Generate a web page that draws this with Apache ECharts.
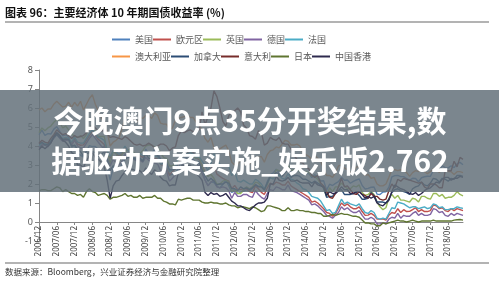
<!DOCTYPE html>
<html>
<head>
<meta charset="utf-8">
<script src="https://cdn.jsdelivr.net/npm/echarts@6/dist/echarts.min.js"></script>
<style>
  html, body { margin: 0; padding: 0; background: #ffffff; }
  #chart { width: 499px; height: 282px; }
</style>
</head>
<body>
<div id="chart"></div>
<script>
// 10-year government bond yields (%), monthly, 2006/12 – 2018/11
const startYear = 2006, startMonth = 12, monthCount = 144;

const yTicks = [-1, 0, 1, 2, 3, 4, 5, 6, 7, 8];

const usa = [4.60,
  4.83,4.56,4.65,4.63,4.89,5.02,4.77,4.53,4.59,4.47,3.94,4.03,
  3.63,3.52,3.41,3.73,4.02,3.97,3.98,3.82,3.83,4.00,2.93,2.21,
  2.84,3.02,2.69,3.12,3.46,3.53,3.48,3.40,3.31,3.39,3.21,3.84,
  3.59,3.61,3.83,3.66,3.29,2.93,2.91,2.47,2.51,2.60,2.80,3.29,
  3.37,3.42,3.46,3.29,3.06,3.18,2.80,2.22,1.92,2.11,2.07,1.88,
  1.80,1.97,2.21,1.91,1.56,1.64,1.49,1.56,1.63,1.69,1.61,1.76,
  1.98,1.88,1.85,1.67,2.13,2.49,2.58,2.78,2.61,2.56,2.75,3.03,
  2.67,2.65,2.72,2.64,2.48,2.53,2.56,2.34,2.49,2.34,2.16,2.17,
  1.68,1.99,1.92,2.03,2.12,2.35,2.20,2.21,2.04,2.14,2.21,2.27,
  1.92,1.74,1.77,1.83,1.84,1.47,1.45,1.58,1.59,1.83,2.37,2.44,
  2.45,2.39,2.39,2.28,2.20,2.30,2.29,2.12,2.33,2.38,2.41,2.40,
  2.71,2.86,2.74,2.95,2.86,2.85,2.96,2.86,3.06,3.14,3.01];

const euro = [3.95,
  4.10,4.08,4.02,4.25,4.47,4.68,4.52,4.35,4.40,4.38,4.15,4.40,
  4.10,4.04,4.06,4.30,4.55,4.76,4.55,4.35,4.22,4.08,3.70,3.35,
  3.74,3.62,3.45,3.60,3.95,3.76,3.65,3.55,3.44,3.50,3.40,3.60,
  3.55,3.41,3.35,3.36,3.05,2.95,3.02,2.45,2.66,2.80,3.06,3.30,
  3.55,3.62,3.75,3.65,3.36,3.30,2.96,2.60,2.40,2.80,3.00,2.52,
  2.40,2.30,2.22,2.15,1.75,1.92,1.70,1.72,1.75,1.76,1.60,1.55,
  1.90,1.75,1.56,1.45,1.80,2.05,1.95,2.10,2.05,1.95,1.95,2.15,
  1.90,1.80,1.70,1.60,1.50,1.40,1.30,1.05,1.10,1.00,0.85,0.70,
  0.50,0.45,0.30,0.45,0.72,1.00,0.85,0.95,0.80,0.70,0.70,0.80,
  0.55,0.35,0.36,0.45,0.35,0.15,0.15,0.16,0.10,0.35,0.50,0.45,
  0.70,0.50,0.65,0.55,0.56,0.65,0.75,0.55,0.65,0.55,0.55,0.60,
  0.90,0.85,0.70,0.75,0.60,0.55,0.70,0.60,0.70,0.65,0.60];

const uk = [4.70,
  4.95,4.80,4.95,5.05,5.25,5.40,5.25,4.95,5.05,4.85,4.65,4.50,
  4.45,4.55,4.40,4.60,5.00,5.10,4.75,4.50,4.50,4.50,3.75,3.05,
  3.70,3.60,3.15,3.55,3.70,3.80,3.85,3.65,3.55,3.60,3.75,4.00,
  4.05,4.05,3.95,3.95,3.65,3.40,3.35,2.95,2.95,3.05,3.25,3.50,
  3.70,3.75,3.75,3.45,3.35,3.40,2.95,2.55,2.40,2.50,2.30,2.00,
  2.00,2.15,2.20,2.10,1.60,1.70,1.50,1.50,1.70,1.85,1.75,1.85,
  2.10,2.05,1.85,1.70,1.95,2.45,2.35,2.75,2.70,2.65,2.80,3.00,
  2.70,2.75,2.75,2.65,2.65,2.65,2.60,2.40,2.40,2.25,2.00,1.75,
  1.35,1.80,1.60,1.85,1.85,2.05,1.90,1.75,1.75,1.90,1.85,1.95,
  1.55,1.40,1.45,1.60,1.45,1.05,0.80,0.65,0.75,1.25,1.45,1.25,
  1.40,1.15,1.15,1.10,1.05,1.25,1.20,1.05,1.35,1.35,1.25,1.20,
  1.50,1.50,1.35,1.45,1.25,1.30,1.30,1.40,1.60,1.45,1.38];

const germany = [3.90,
  4.05,4.05,3.95,4.20,4.40,4.60,4.40,4.25,4.30,4.30,4.05,4.30,
  4.00,3.90,3.90,4.15,4.40,4.60,4.40,4.20,4.00,3.85,3.35,2.95,
  3.30,3.10,3.00,3.20,3.60,3.40,3.35,3.30,3.20,3.25,3.15,3.40,
  3.25,3.10,3.10,3.05,2.70,2.60,2.70,2.15,2.30,2.50,2.65,2.95,
  3.15,3.20,3.35,3.30,3.05,2.95,2.55,2.20,1.90,2.10,2.20,1.85,
  1.80,1.85,1.80,1.65,1.25,1.55,1.35,1.35,1.45,1.45,1.35,1.30,
  1.65,1.45,1.30,1.20,1.50,1.70,1.65,1.85,1.80,1.70,1.70,1.95,
  1.65,1.60,1.55,1.45,1.35,1.25,1.15,0.90,0.95,0.85,0.70,0.55,
  0.35,0.30,0.20,0.35,0.50,0.80,0.65,0.75,0.60,0.50,0.50,0.60,
  0.35,0.15,0.15,0.25,0.15,-0.10,-0.10,-0.05,-0.10,0.15,0.25,0.20,
  0.45,0.20,0.35,0.30,0.30,0.45,0.55,0.35,0.45,0.35,0.35,0.40,
  0.70,0.65,0.50,0.55,0.35,0.30,0.45,0.35,0.45,0.40,0.35];

const france = [4.00,
  4.15,4.15,4.05,4.30,4.50,4.70,4.55,4.40,4.45,4.40,4.20,4.45,
  4.20,4.15,4.15,4.40,4.65,4.85,4.65,4.45,4.40,4.30,3.75,3.45,
  3.75,3.70,3.55,3.70,4.00,3.75,3.70,3.60,3.50,3.60,3.50,3.60,
  3.55,3.45,3.45,3.45,3.05,3.05,3.05,2.65,2.75,2.95,3.35,3.35,
  3.55,3.60,3.65,3.60,3.40,3.45,3.20,3.00,2.70,3.10,3.60,3.25,
  3.05,2.95,3.00,2.95,2.45,2.65,2.15,2.10,2.20,2.10,2.00,2.00,
  2.25,2.15,2.00,1.75,2.05,2.35,2.25,2.50,2.45,2.30,2.25,2.55,
  2.25,2.20,2.05,1.95,1.75,1.70,1.55,1.35,1.30,1.25,1.10,0.85,
  0.60,0.65,0.45,0.50,0.85,1.20,0.95,1.05,0.95,0.90,0.85,0.95,
  0.70,0.50,0.45,0.60,0.50,0.20,0.15,0.20,0.15,0.45,0.75,0.70,
  1.05,1.00,0.95,0.85,0.75,0.80,0.80,0.70,0.75,0.80,0.70,0.75,
  0.95,0.90,0.75,0.80,0.65,0.65,0.70,0.70,0.80,0.75,0.72];

const australia = [5.90,
  6.00,5.80,5.95,5.95,6.20,6.35,6.20,6.05,6.10,6.30,6.05,6.30,
  6.10,6.35,5.90,6.20,6.50,6.70,6.20,5.85,5.50,5.15,4.75,4.00,
  4.20,4.30,4.45,4.90,5.50,5.50,5.50,5.40,5.25,5.50,5.45,5.60,
  5.60,5.45,5.75,5.60,5.20,5.15,5.15,4.85,4.95,5.35,5.45,5.50,
  5.55,5.60,5.50,5.50,5.25,5.20,4.80,4.40,4.20,4.45,3.90,3.65,
  3.85,3.95,4.05,3.75,3.15,3.00,3.05,3.25,3.05,3.15,3.05,3.25,
  3.40,3.40,3.45,3.15,3.55,3.75,3.80,3.95,3.90,4.10,4.30,4.25,
  4.05,4.05,4.10,4.00,3.65,3.55,3.45,3.30,3.50,3.35,3.20,2.80,
  2.45,2.45,2.35,2.60,2.95,3.00,2.85,2.75,2.60,2.65,2.90,2.90,
  2.60,2.45,2.50,2.30,2.35,2.00,1.90,1.90,2.00,2.35,2.75,2.75,
  2.70,2.75,2.70,2.60,2.40,2.60,2.70,2.65,2.85,2.65,2.55,2.65,
  2.80,2.80,2.60,2.75,2.70,2.65,2.65,2.50,2.65,2.65,2.60];

const canada = [4.10,
  4.20,4.05,4.10,4.20,4.45,4.60,4.45,4.35,4.35,4.35,4.00,4.05,
  3.85,3.70,3.45,3.60,3.65,3.70,3.65,3.45,3.55,3.70,3.30,2.70,
  2.95,2.95,2.80,2.95,3.30,3.40,3.40,3.35,3.25,3.35,3.20,3.60,
  3.35,3.35,3.60,3.50,3.30,3.10,3.15,2.75,2.75,2.80,3.10,3.15,
  3.30,3.30,3.40,3.25,3.05,3.10,2.75,2.45,2.15,2.30,2.15,1.95,
  2.00,2.00,2.10,2.05,1.75,1.75,1.65,1.85,1.75,1.80,1.70,1.80,
  1.95,1.85,1.85,1.70,2.05,2.40,2.45,2.60,2.55,2.40,2.60,2.75,
  2.35,2.45,2.45,2.40,2.25,2.25,2.15,2.05,2.15,2.05,1.95,1.80,
  1.30,1.35,1.35,1.55,1.65,1.70,1.45,1.45,1.45,1.50,1.55,1.40,
  1.20,1.20,1.25,1.55,1.40,1.05,1.05,1.05,1.00,1.20,1.55,1.70,
  1.75,1.65,1.60,1.55,1.45,1.75,1.85,1.90,2.10,1.95,1.90,2.05,
  2.30,2.25,2.10,2.30,2.25,2.15,2.30,2.25,2.45,2.45,2.40];

const italy = [4.15,
  4.30,4.20,4.15,4.40,4.60,4.85,4.70,4.60,4.65,4.55,4.40,4.55,
  4.45,4.50,4.55,4.70,4.95,5.10,4.95,4.80,4.80,4.80,4.65,4.45,
  4.50,4.45,4.40,4.35,4.50,4.40,4.25,4.10,4.05,4.10,4.00,4.05,
  4.15,4.05,3.90,4.00,4.10,4.10,4.00,3.75,3.90,3.95,4.55,4.80,
  4.70,4.80,4.85,4.75,4.75,4.85,5.80,5.10,5.55,6.00,6.90,6.60,
  6.00,5.30,5.05,5.60,5.80,5.85,6.00,5.80,5.10,4.95,4.55,4.50,
  4.35,4.80,4.70,4.05,4.15,4.45,4.35,4.30,4.45,4.15,4.10,4.10,
  3.85,3.50,3.30,3.15,3.10,2.90,2.80,2.45,2.35,2.45,2.05,1.90,
  1.60,1.30,1.25,1.50,1.85,2.30,1.85,1.90,1.70,1.50,1.45,1.60,
  1.45,1.40,1.25,1.50,1.35,1.35,1.20,1.15,1.20,1.65,2.00,1.80,
  2.25,2.15,2.30,2.25,2.20,2.15,2.10,2.05,2.10,1.85,1.75,2.00,
  2.00,1.95,1.80,1.80,2.70,2.70,2.70,3.20,2.90,3.40,3.30];

const japan = [1.65,
  1.70,1.70,1.65,1.65,1.75,1.85,1.80,1.60,1.70,1.60,1.50,1.50,
  1.40,1.45,1.30,1.60,1.75,1.60,1.55,1.40,1.45,1.50,1.40,1.20,
  1.30,1.30,1.35,1.40,1.50,1.35,1.40,1.30,1.30,1.40,1.25,1.30,
  1.30,1.30,1.40,1.25,1.25,1.10,1.05,0.95,0.95,0.90,1.20,1.15,
  1.20,1.25,1.25,1.15,1.15,1.15,1.05,1.00,1.00,1.05,1.00,1.00,
  0.95,0.95,1.00,0.90,0.85,0.85,0.75,0.80,0.80,0.75,0.70,0.80,
  0.75,0.65,0.55,0.60,0.85,0.85,0.80,0.75,0.70,0.60,0.60,0.75,
  0.60,0.60,0.65,0.60,0.60,0.55,0.55,0.50,0.50,0.45,0.45,0.30,
  0.30,0.35,0.40,0.35,0.40,0.45,0.40,0.40,0.35,0.30,0.30,0.25,
  0.10,-0.05,-0.05,-0.10,-0.10,-0.20,-0.20,-0.05,-0.10,-0.05,0.00,0.05,
  0.10,0.05,0.05,0.00,0.05,0.10,0.05,0.00,0.05,0.05,0.05,0.05,
  0.10,0.05,0.05,0.05,0.05,0.05,0.05,0.10,0.12,0.13,0.10];

const hongkong = [3.80,
  4.00,3.85,4.00,4.15,4.50,4.70,4.55,4.30,4.20,4.00,3.65,3.55,
  3.00,3.00,2.85,3.25,3.45,3.65,3.40,3.30,3.15,2.90,2.20,1.25,
  1.90,2.15,2.20,2.45,2.65,2.90,2.80,2.75,2.65,2.70,2.55,2.85,
  2.65,2.50,2.75,2.60,2.35,2.20,2.15,1.90,1.95,1.95,2.60,2.95,
  3.00,2.95,3.00,2.75,2.55,2.40,2.20,1.55,1.40,1.55,1.45,1.50,
  1.35,1.40,1.50,1.30,1.10,1.00,0.85,0.85,0.75,0.65,0.60,0.75,
  0.90,1.00,1.00,1.05,1.25,2.00,2.00,2.40,2.20,2.15,2.20,2.35,
  2.15,2.15,2.20,2.10,2.05,2.05,2.05,1.85,2.10,1.95,1.90,1.85,
  1.40,1.60,1.50,1.50,1.65,1.85,1.70,1.70,1.50,1.50,1.60,1.60,
  1.45,1.25,1.35,1.25,1.35,1.00,0.90,0.85,1.00,1.15,1.60,1.95,
  1.85,1.75,1.70,1.60,1.50,1.45,1.55,1.40,1.50,1.65,1.75,1.80,
  1.95,2.10,2.05,2.25,2.35,2.35,2.20,2.30,2.30,2.40,2.35];

const seriesNames = ['美国', '欧元区', '英国', '德国', '法国',
                     '澳大利亚', '加拿大', '意大利', '日本', '中国香港'];
const seriesData = [usa, euro, uk, germany, france,
                    australia, canada, italy, japan, hongkong];
const seriesColors = ['#4F81BD', '#C0504D', '#9BBB59', '#8064A2', '#4BACC6',
                      '#F79646', '#2C4D75', '#772C2A', '#5F7530', '#2E2A4E'];

// month labels "YYYY/MM"
const months = [];
for (let i = 0; i < monthCount; i++) {
  const m0 = startMonth - 1 + i;
  const y = startYear + Math.floor(m0 / 12);
  const m = (m0 % 12) + 1;
  months.push(y + '/' + (m < 10 ? '0' + m : m));
}

const chart = echarts.init(document.getElementById('chart'), null, { renderer: 'canvas' });

const cjk = '"Noto Sans CJK SC", sans-serif';

// plot area: 9 units (-1..8) over 171 px, so one unit is 19 px
const gridTop = 70, gridBottom = 41, unitPx = 19;

const legendBase = {
  left: 107,
  itemWidth: 18,
  itemHeight: 2,
  itemGap: 0,
  icon: 'rect',
  textStyle: { fontSize: 9, color: '#595959', width: 34, fontFamily: cjk }
};

chart.setOption({
  animation: false,
  backgroundColor: '#ffffff',
  color: seriesColors,
  legend: [
    Object.assign({ top: 30, data: seriesNames.slice(0, 5) }, legendBase),
    Object.assign({ top: 47, data: seriesNames.slice(5) }, legendBase)
  ],
  grid: { left: 39, right: 36, top: gridTop, bottom: gridBottom, containLabel: false },
  xAxis: {
    type: 'category',
    data: months,
    boundaryGap: false,
    // the category axis sits on the zero line, one unit above the plot bottom
    offset: -unitPx,
    axisLine: { onZero: false, lineStyle: { color: '#868686', width: 1 } },
    axisTick: { show: true, interval: 5, length: 3, lineStyle: { color: '#868686' } },
    axisLabel: {
      interval: 5, rotate: 90, fontSize: 8, color: '#404040', margin: 4,
      fontFamily: '"Noto Sans", sans-serif'
    },
    splitLine: { show: false }
  },
  yAxis: {
    type: 'value',
    min: yTicks[0],
    max: yTicks[yTicks.length - 1],
    interval: 1,
    axisLine: { show: true, lineStyle: { color: '#868686', width: 1 } },
    axisTick: { show: true, length: 4, lineStyle: { color: '#868686' } },
    axisLabel: { fontSize: 9, color: '#595959', margin: 6, fontFamily: '"Noto Sans", sans-serif' },
    splitLine: { show: false }
  },
  series: seriesNames.map((name, i) => ({
    name: name,
    type: 'line',
    data: seriesData[i],
    symbol: 'none',
    lineStyle: { width: 1.4 },
    z: 2
  })),
  graphic: [
    {
      type: 'text', z: 10, x: 5, y: 13,
      style: {
        text: '图表 96：主要经济体 10 年期国债收益率 (%)',
        fontSize: 11, fontWeight: 'bold', fill: '#111111',
        verticalAlign: 'middle', fontFamily: cjk
      }
    },
    {
      type: 'line', z: 10,
      shape: { x1: 5, y1: 22, x2: 489, y2: 22 },
      style: { stroke: '#9a9a9a', lineWidth: 1.5 }
    },
    {
      type: 'line', z: 10,
      shape: { x1: 5, y1: 263, x2: 489, y2: 263 },
      style: { stroke: '#9a9a9a', lineWidth: 1.5 }
    },
    {
      type: 'text', z: 10, x: 5, y: 272,
      style: {
        text: '数据来源：Bloomberg，兴业证券经济与金融研究院整理',
        fontSize: 8.5, fill: '#333333',
        verticalAlign: 'middle', fontFamily: cjk
      }
    },
    {
      type: 'rect', z: 100,
      shape: { x: 0, y: 90, width: 499, height: 102 },
      style: { fill: 'rgba(100,113,122,0.85)' }
    },
    {
      type: 'text', z: 101,
      x: 250, y: 121,
      style: {
        text: '今晚澳门9点35分开奖结果,数',
        align: 'center', verticalAlign: 'middle',
        fontSize: 30, fontWeight: 'bold', fill: '#ffffff',
        fontFamily: cjk
      }
    },
    {
      type: 'text', z: 101,
      x: 250, y: 161,
      style: {
        text: '据驱动方案实施_娱乐版2.762',
        align: 'center', verticalAlign: 'middle',
        fontSize: 30, fontWeight: 'bold', fill: '#ffffff',
        fontFamily: cjk
      }
    }
  ]
});
</script>
</body>
</html>
